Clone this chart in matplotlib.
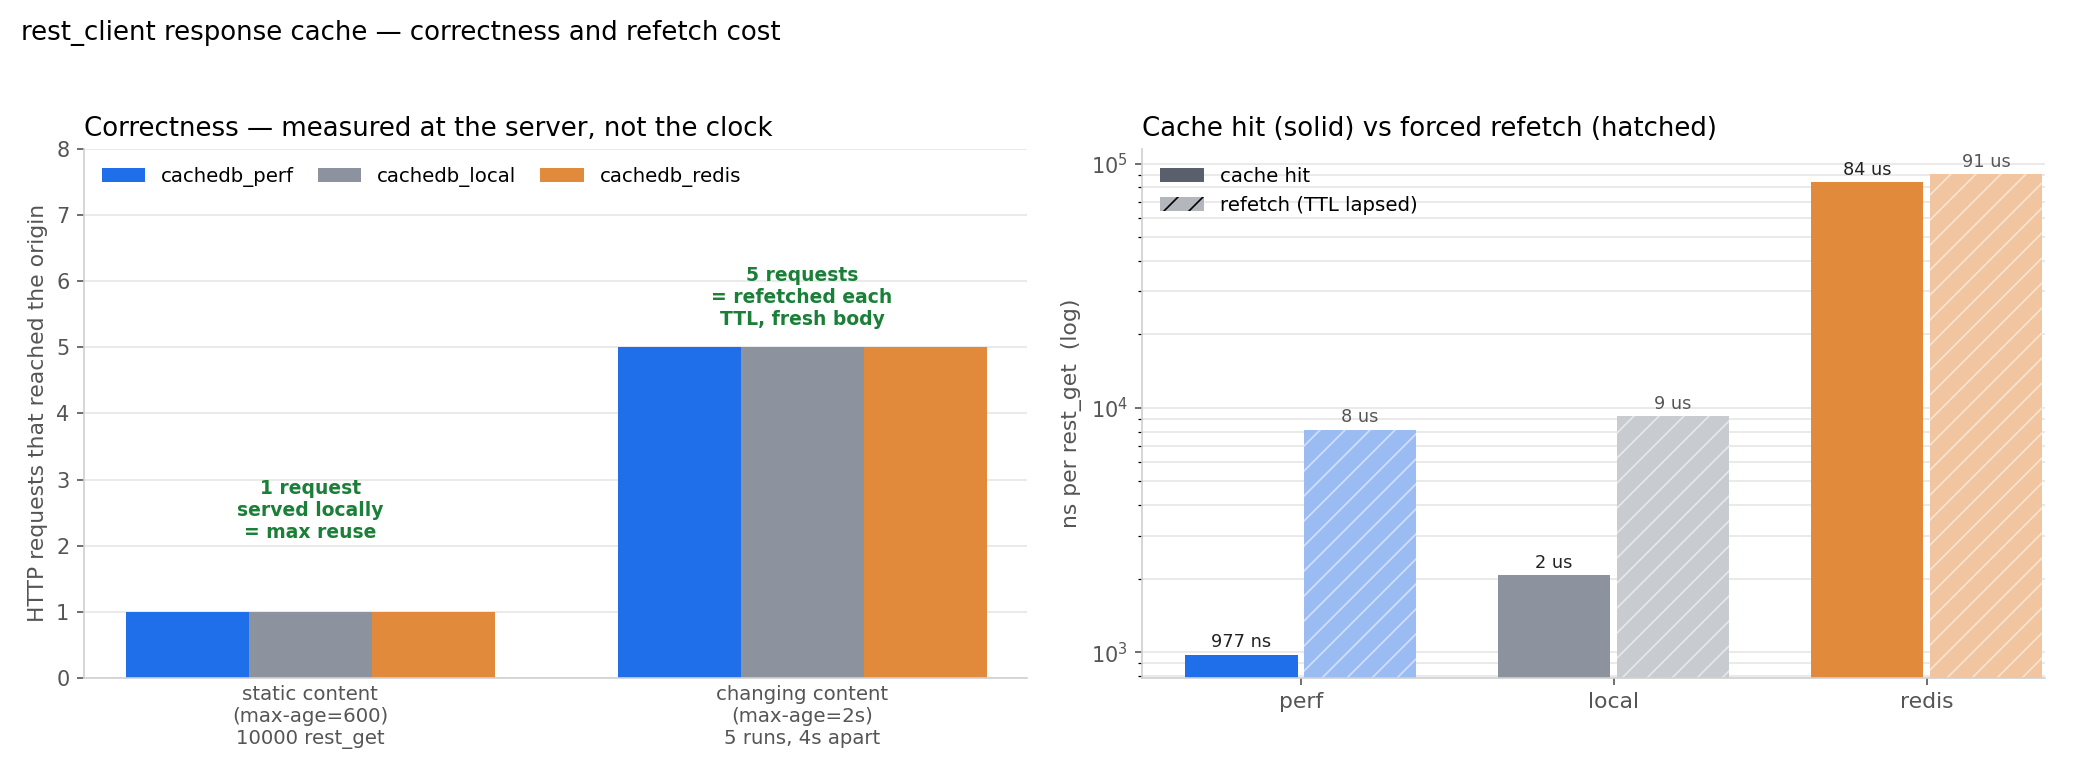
import matplotlib
matplotlib.use("Agg")
import matplotlib.pyplot as plt
from matplotlib.patches import Patch
import numpy as np

plt.rcParams['font.family'] = ['DejaVu Sans']
plt.rcParams['hatch.linewidth'] = 0.8

# left panel data
scenarios = ["static content\n(max-age=600)\n10000 rest_get",
             "changing content\n(max-age=2s)\n5 runs, 4s apart"]
backends = ["cachedb_perf", "cachedb_local", "cachedb_redis"]
origin_requests = {"cachedb_perf": [1, 5], "cachedb_local": [1, 5], "cachedb_redis": [1, 5]}
notes = ["1 request\nserved locally\n= max reuse",
         "5 requests\n= refetched each\nTTL, fresh body"]

# right panel data
short_names = ["perf", "local", "redis"]
hit_ns = [977, 2065, 84000]
refetch_ns = [8160, 9270, 91000]
hit_labels = ["977 ns", "2 us", "84 us"]
refetch_labels = ["8 us", "9 us", "91 us"]

colors = ["#1f6fea", "#8c939e", "#e28a3b"]
light = ["#9bbcf3", "#c8ccd1", "#f0c59f"]
green = "#1a7f37"
grid_c = "#e6e6e6"
spine_c = "#d0d0d0"

fig = plt.figure(figsize=(14, 5.2), dpi=150)
fig.suptitle("rest_client response cache \u2014 correctness and refetch cost",
             x=0.01, y=0.975, ha="left", fontsize=12.5)

ax1 = fig.add_axes([0.040, 0.131, 0.449, 0.678])
ax2 = fig.add_axes([0.544, 0.131, 0.430, 0.678])

for ax in (ax1, ax2):
    for s in ("top", "right"):
        ax.spines[s].set_visible(False)
    for s in ("left", "bottom"):
        ax.spines[s].set_color(spine_c)
    ax.set_axisbelow(True)
    ax.tick_params(colors="#555555", labelsize=10)

# left
x = np.arange(len(scenarios))
w = 0.25
for i, b in enumerate(backends):
    ax1.bar(x + (i - 1) * w, origin_requests[b], w, color=colors[i], label=b)
ax1.set_xticks(x)
ax1.set_xticklabels(scenarios, fontsize=9.5)
ax1.set_ylim(0, 8)
ax1.set_xlim(-0.46, 1.457)
ax1.yaxis.grid(True, color=grid_c, lw=0.8)
ax1.tick_params(axis="x", length=0)
ax1.set_ylabel("HTTP requests that reached the origin", fontsize=10.5, color="#555555")
ax1.set_title("Correctness \u2014 measured at the server, not the clock", loc="left", fontsize=12.5)
ax1.legend(loc="upper left", ncol=3, frameon=False, fontsize=9.5, handlelength=2.2,
           handleheight=0.7, columnspacing=1.2)
for xi, note, off in zip(x, notes, [1.05, 0.27]):
    top = max(origin_requests[b][xi] for b in backends)
    ax1.text(xi, top + off, note, ha="center", va="bottom", color=green,
             fontsize=9, fontweight="bold")

# right
x2 = np.arange(len(short_names))
w2 = 0.36
g = 0.02
for i in range(len(short_names)):
    ax2.bar(x2[i] - w2 / 2 - g / 2, hit_ns[i], w2, color=colors[i])
    ax2.bar(x2[i] + w2 / 2 + g / 2, refetch_ns[i], w2, color=light[i],
            hatch="//", edgecolor=(1, 1, 1, 0.55), linewidth=0)
    ax2.text(x2[i] - w2 / 2 - g / 2, hit_ns[i] * 1.03, hit_labels[i], ha="center",
             va="bottom", fontsize=8.5, color="#222222")
    ax2.text(x2[i] + w2 / 2 + g / 2, refetch_ns[i] * 1.03, refetch_labels[i],
             ha="center", va="bottom", fontsize=8.5, color="#555555")
ax2.set_yscale("log")
ax2.set_ylim(785, 115000)
ax2.set_xlim(-0.506, 2.38)
ax2.set_xticks(x2)
ax2.set_xticklabels(short_names, fontsize=10.5)
ax2.yaxis.grid(True, which="both", color=grid_c, lw=0.8)
ax2.set_ylabel("ns per rest_get  (log)", fontsize=10.5, color="#555555")
ax2.set_title("Cache hit (solid) vs forced refetch (hatched)", loc="left", fontsize=12.5)
handles = [Patch(facecolor="#5a606b", label="cache hit"),
           Patch(facecolor="#b3b7bd", hatch="//", edgecolor="black", linewidth=0,
                 label="refetch (TTL lapsed)")]
ax2.legend(handles=handles, loc="upper left", frameon=False, fontsize=9.5,
           handlelength=2.2, handleheight=0.7)

fig.savefig("out.png", dpi=150)
